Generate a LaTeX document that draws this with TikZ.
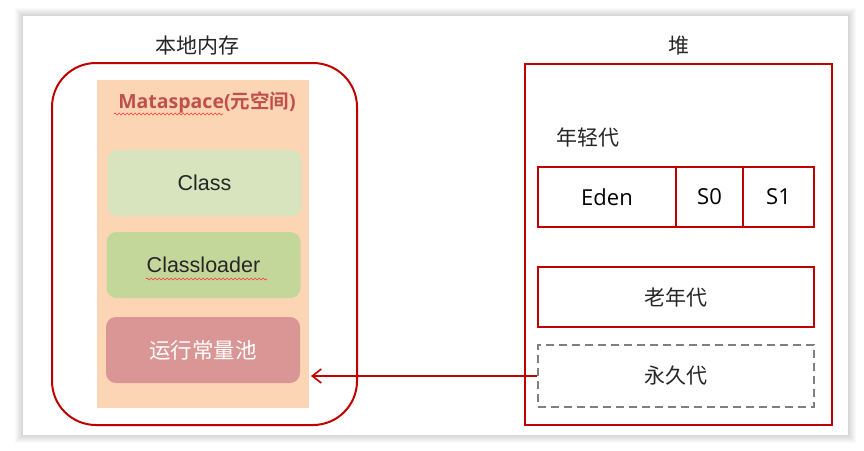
\documentclass[tikz,border=0pt]{standalone}
\usepackage{fontspec}
\setmainfont{Liberation Sans}
\newfontfamily\cjk{Noto Sans CJK SC}
\newfontfamily\cjkb{Noto Sans CJK SC Bold}
\newfontfamily\segoe{Open Sans}
\newfontfamily\segoeb{Open Sans Bold}
\usetikzlibrary{arrows.meta,decorations.pathmorphing}
\definecolor{dred}{HTML}{C00000}
\definecolor{peach}{HTML}{FCD5B5}
\definecolor{lgreen}{HTML}{D7E4BD}
\definecolor{mgreen}{HTML}{C4D79B}
\definecolor{pool}{HTML}{D99694}
\definecolor{titlec}{HTML}{C0504D}
\definecolor{dgray}{HTML}{7F7F7F}
\tikzset{
  redbox/.style={draw=dred,line width=2pt},
  inner/.style={rounded corners=10pt,minimum width=194pt,minimum height=66pt,font=\fontsize{21.5}{25}\selectfont,text=black!85},
  cjklabel/.style={font=\cjk\fontsize{21}{25}\selectfont,text=black!85},
  cell/.style={redbox,minimum height=60pt,inner sep=0pt,font=\segoe\fontsize{22}{26}\selectfont},
  squiggle/.style={draw=red!80,line width=0.6pt,decorate,decoration={snake,amplitude=1pt,segment length=4pt}}
}
\begin{document}
\begin{tikzpicture}[x=1pt,y=-1pt]
\useasboundingbox (0,0) rectangle (864,450);
\fill[white] (0,0) rectangle (864,450);
% card shadow
\foreach \d in {8,7,6,5,4,3,2,1}{
  \fill[black,opacity=0.018] (23-\d,16-\d) rectangle (848+\d,435+\d);
}
\fill[white] (23,16) rectangle (848,435);
% headings
\node[cjklabel] (local) at (197,46) {本地内存};
\node[cjklabel] (heap) at (679,46) {堆};
% native memory
\node[redbox,rounded corners=44pt,minimum width=305pt,minimum height=362pt,inner sep=0pt] (native) at (204.5,244) {};
\node[fill=peach,minimum width=212pt,minimum height=328pt,inner sep=0pt] (meta) at (203,244) {};
\node[font=\fontsize{19.5}{22}\selectfont,text=titlec,inner sep=0pt] (title) at (207,102) {\segoeb Mataspace(\cjkb 元空间\segoeb )};
\node[inner,fill=lgreen] (class) at (204.5,183) {Class};
\node[inner,fill=mgreen] (loader) at (203.5,265) {Classloader};
\node[inner,fill=pool,text=white,font=\cjk\fontsize{21.5}{25}\selectfont] (pool) at (203,350) {运行常量池};
\draw[squiggle] (114,114) -- (223,114);
\draw[squiggle] (146,279) -- (267,279);
% heap
\node[redbox,minimum width=307pt,minimum height=361pt,inner sep=0pt] (heapbox) at (678.5,244.5) {};
\node[cjklabel,anchor=west] (young) at (553,137) {年轻代};
\node[cell,minimum width=138pt] (eden) at (607,197) {Eden};
\node[cell,minimum width=67pt] (s0) at (709.5,197) {S0};
\node[cell,minimum width=71pt] (s1) at (778.5,197) {S1};
\node[redbox,minimum width=276pt,minimum height=60pt,inner sep=0pt,cjklabel] (old) at (676,297) {老年代};
\node[draw=dgray,dashed,dash pattern=on 8pt off 5pt,line width=1.6pt,minimum width=276pt,minimum height=62pt,inner sep=0pt,cjklabel] (perm) at (676,376) {永久代};
% arrow
\coordinate (tip) at (311,376);
\draw[dred,line width=1.6pt,-{Straight Barb[length=9pt,width=14pt]}] (perm.west) -- (tip);
\end{tikzpicture}
\end{document}
